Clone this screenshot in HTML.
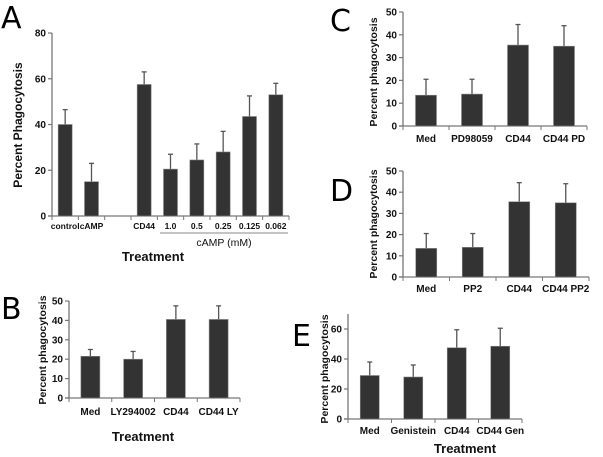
<!DOCTYPE html>
<html><head><meta charset="utf-8"><style>
body{margin:0;background:#fff;}
svg{display:block;font-family:"Liberation Sans",Arial,sans-serif;}
.t{font-size:10px;font-weight:bold;fill:#111;}
.yl{font-size:10.5px;font-weight:bold;fill:#111;}
.letter{font-family:"DejaVu Sans","Liberation Sans",sans-serif;font-size:30px;fill:#000;}
</style></head><body>
<svg id="fig" width="603" height="457" viewBox="0 0 603 457">
<text class="letter" x="1" y="28">A</text>
<text class="letter" x="330" y="31">C</text>
<text class="letter" x="330" y="201">D</text>
<text class="letter" x="1" y="319">B</text>
<text class="letter" x="292" y="346">E</text>
</svg>
<script>
const aCats=["control","cAMP","","CD44","1.0","0.5","0.25","0.125","0.062"];
const aVals=[40,15,null,57.5,20.5,24.5,28,43.5,53];
const aErrs=[6.5,8,null,5.5,6.5,7,9,9,5];
const aTicks=[0,20,40,60,80];
const cCats=["Med","PD98059","CD44","CD44 PD"];
const cVals=[13.5,14,35.5,35];
const cErrs=[7,6.5,9,9];
const dCats=["Med","PP2","CD44","CD44 PP2"];
const dVals=[13.5,14,35.5,35];
const dErrs=[7,6.5,9,9];
const bCats=["Med","LY294002","CD44","CD44 LY"];
const bVals=[21.5,20,40.5,40.5];
const bErrs=[3.5,4,7,7];
const eCats=["Med","Genistein","CD44","CD44 Gen"];
const eVals=[29,28,47.5,48.5];
const eErrs=[9,8,12,12];
const fiftyTicks=[0,10,20,30,40,50];
const eTicks=[0,20,40,60];
const NS="http://www.w3.org/2000/svg";
const svg=document.getElementById('fig');
function mk(tag,at,parent){const e=document.createElementNS(NS,tag);for(const k in at)e.setAttribute(k,at[k]);(parent||svg).appendChild(e);return e;}
function panel(p){
 const g=mk('g',{});
 
 
 const y=v=>p.y0-(v/p.ymax)*(p.y0-p.ytop);
 const slot=(p.x1-p.x0)/p.cats.length;
 const xc=i=>p.x0+slot*(i+0.5);
 const ax=mk('line',{x1:p.x0,y1:p.axTop,x2:p.x0,y2:p.y0,stroke:'#777','stroke-width':1.3},g);
 
 
 const xa=mk('line',{x1:p.x0-4,y1:p.y0,x2:p.x1,y2:p.y0,stroke:'#777','stroke-width':1.3},g);
 
 
 p.ticks.forEach(t=>{
  mk('line',{x1:p.x0-4,x2:p.x0,y1:y(t),y2:y(t),stroke:'#777','stroke-width':1.2},g);
  const tl=mk('text',{x:p.x0-6,y:y(t)+3.5,'text-anchor':'end',class:'t'},g);
  
  
  tl.textContent=t;
 });
 for(let i=0;i<=p.cats.length;i++){mk('line',{x1:p.x0+slot*i,x2:p.x0+slot*i,y1:p.y0,y2:p.y0+4,stroke:'#777','stroke-width':1},g);}
 p.cats.forEach((c,i)=>{
  const v=p.vals[i];
  if(v!==null){
   const top=y(v+p.errs[i]);
   const el=mk('line',{x1:xc(i),x2:xc(i),y1:top,y2:y(v),stroke:'#555','stroke-width':1.3},g);
   
   
   mk('line',{x1:xc(i)-2.5,x2:xc(i)+2.5,y1:top,y2:top,stroke:'#555','stroke-width':1.3},g);
   const r=mk('rect',{x:xc(i)-p.bw/2,y:y(v),width:p.bw,height:p.y0-y(v),fill:'#333',stroke:'#888','stroke-width':0.6},g);
   
   
  }
  if(c){const tl=mk('text',{x:xc(i),y:p.labY,'text-anchor':'middle',class:'t',style:p.labStyle||''},g);
   
   
   tl.textContent=c;}
 });
 const yl=mk('text',{x:0,y:0,'text-anchor':'middle',class:'yl',style:p.ylStyle||'',transform:`translate(${p.ylx},${p.yly}) rotate(-90)`},g);
 
 
 yl.textContent=p.ytitle;
 if(p.tx){const tt=mk('text',{x:p.tx,y:p.ty,'text-anchor':'middle',class:'yl',style:'font-size:13px'},g);
  
  
  tt.textContent='Treatment';}
 return {g,xc,slot};
}
const A=panel({name:'panel-a',cats:aCats,vals:aVals,errs:aErrs,ticks:aTicks,ymax:80,x0:52,x1:289,y0:216,ytop:33,axTop:33,bw:14,labY:229,labStyle:'font-size:8.5px',ylx:22,yly:125,ylStyle:'font-size:12px',ytitle:'Percent Phagocytosis',tx:153,ty:261});
const cl=mk('line',{x1:160,x2:288,y1:233,y2:233,stroke:'#888','stroke-width':1},A.g);


const ct=mk('text',{x:224,y:246,'text-anchor':'middle',style:'font-size:10.5px;fill:#111'},A.g);


ct.textContent='cAMP (mM)';
panel({name:'panel-c',cats:cCats,vals:cVals,errs:cErrs,ticks:fiftyTicks,ymax:50,x0:403,x1:587,y0:126,ytop:12,axTop:12,bw:21,labY:142,ylx:377,yly:72,ytitle:'Percent phagocytosis'});
panel({name:'panel-d',cats:dCats,vals:dVals,errs:dErrs,ticks:fiftyTicks,ymax:50,x0:403,x1:589,y0:277,ytop:171,axTop:171,bw:21,labY:292,ylx:377,yly:224,ytitle:'Percent phagocytosis'});
panel({name:'panel-b',cats:bCats,vals:bVals,errs:bErrs,ticks:fiftyTicks,ymax:50,x0:69,x1:240,y0:398,ytop:301,axTop:301,bw:19,labY:415,ylx:46,yly:350,ytitle:'Percent phagocytosis',tx:143,ty:441});
panel({name:'panel-e',cats:eCats,vals:eVals,errs:eErrs,ticks:eTicks,ymax:60,x0:348,x1:522,y0:419,ytop:329,axTop:314,bw:19,labY:434,ylx:328,yly:369,ytitle:'Percent phagocytosis',tx:465,ty:453});
</script>
</body></html>
